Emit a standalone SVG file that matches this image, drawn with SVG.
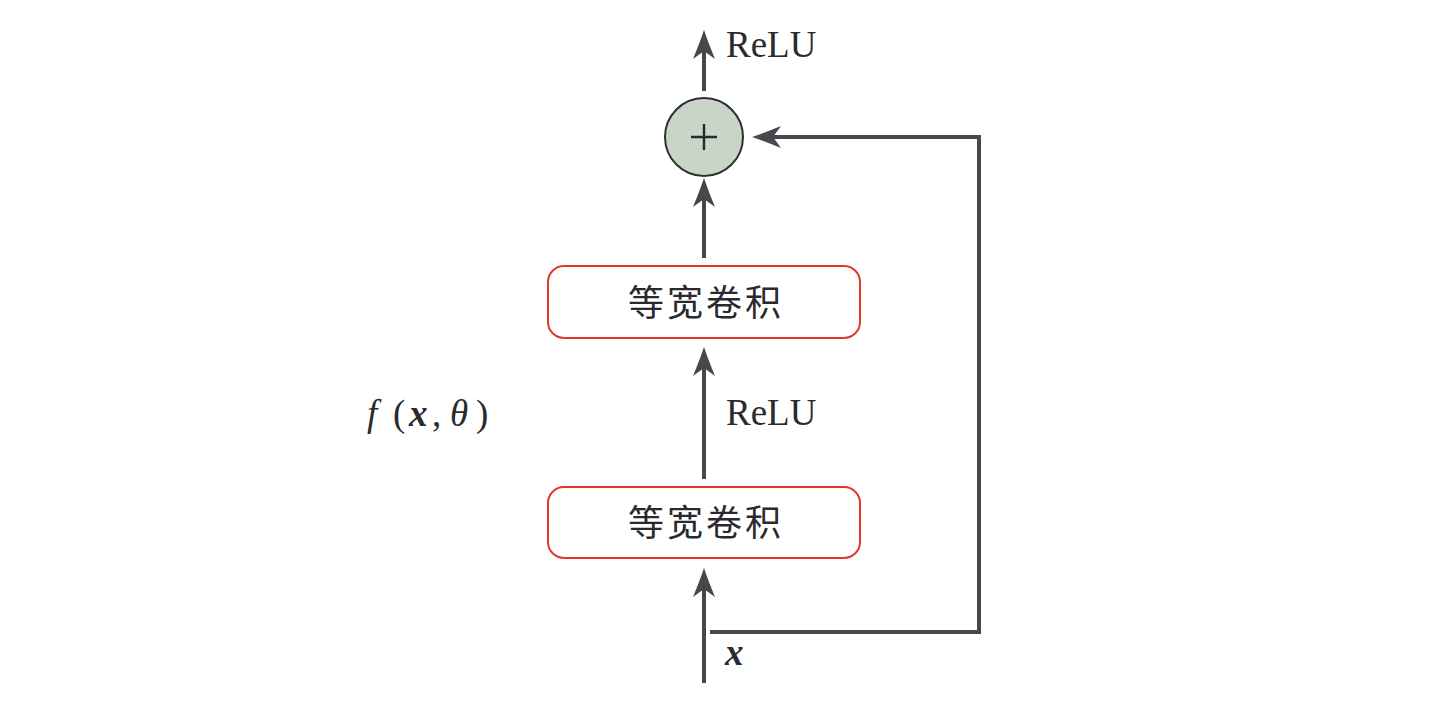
<svg xmlns="http://www.w3.org/2000/svg" width="1442" height="708" viewBox="0 0 1442 708">
<style>
.ln{fill:none;stroke:#47474e;stroke-width:4;marker-end:url(#ah)}
.box{fill:#fff;stroke:#e0392b;stroke-width:2}
.cjk{font-family:"Noto Sans CJK SC",sans-serif;font-size:36px;fill:#2a2a2e;text-anchor:middle;letter-spacing:3px}
.lat{font-family:"Liberation Serif",serif;font-size:37px;fill:#2a2a2e}
.it{font-style:italic}
.bi{font-style:italic;font-weight:bold}
</style>
<defs>
<marker id="ah" markerUnits="userSpaceOnUse" viewBox="-31 -13 33 26" markerWidth="33" markerHeight="26" refX="-20" refY="0" orient="auto">
<path d="M0 0 Q-12 -4 -29 -11 L-21 0 L-29 11 Q-12 4 0 0 Z" fill="#47474e"/>
</marker>
</defs>
<rect width="1442" height="708" fill="#fff"/>
<g id="connectors">
<line class="ln" x1="704" y1="91" x2="704" y2="50"/>
<line class="ln" x1="704" y1="258" x2="704" y2="198"/>
<line class="ln" x1="704" y1="479" x2="704" y2="367"/>
<line class="ln" x1="704" y1="683" x2="704" y2="588"/>
<path class="ln" d="M710 632 H979 V137 H772"/>
</g>
<g id="add">
<circle cx="704" cy="137" r="39" fill="#c9d5c7" stroke="#2e2e33" stroke-width="2"/>
<path d="M691 137 H717 M704 124 V150" stroke="#2a2a2e" stroke-width="2.4"/>
</g>
<g id="conv1">
<rect class="box" x="548" y="266" width="312" height="72" rx="16"/>
<text class="cjk" x="706" y="316">等宽卷积</text>
</g>
<g id="conv2">
<rect class="box" x="548" y="487" width="312" height="71" rx="16"/>
<text class="cjk" x="706" y="536">等宽卷积</text>
</g>
<g id="labels">
<text class="lat" x="726" y="57">ReLU</text>
<text class="lat" x="726" y="425">ReLU</text>
<text class="lat bi" x="725" y="665" font-size="38">x</text>
<text class="lat" y="426" font-size="43"><tspan class="it" x="367">f</tspan><tspan x="393">(</tspan><tspan class="bi" x="409">x</tspan><tspan x="432">,</tspan><tspan class="it" x="450">θ</tspan><tspan x="476">)</tspan></text>
</g>
</svg>
